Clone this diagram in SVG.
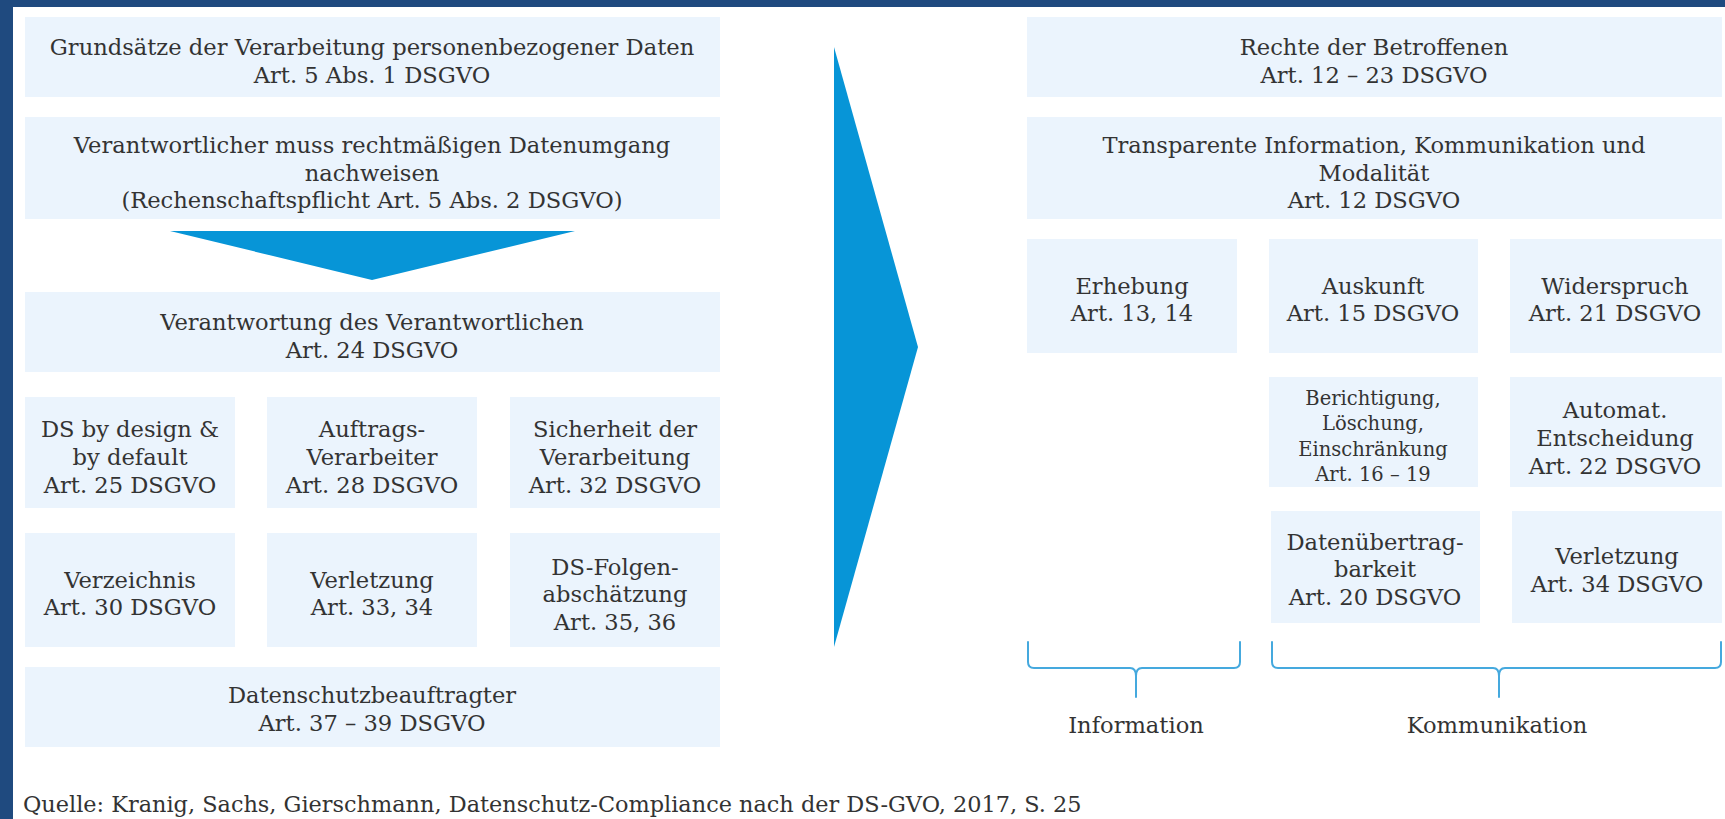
<svg xmlns="http://www.w3.org/2000/svg" width="1725" height="819" viewBox="0 0 1725 819">
<style>
.bx{fill:#EBF4FD}
.t{font-family:"DejaVu Serif","Liberation Serif",serif;font-size:22.6px;fill:#333;text-anchor:middle}
.s{font-size:19.5px}
.ft{text-anchor:start}
.ar{fill:#0795D7}
.br{fill:none;stroke:#45A9DE;stroke-width:2;stroke-linejoin:round;stroke-linecap:round}
</style>
<rect x="0" y="0" width="1725" height="819" fill="#ffffff"/>
<rect x="0" y="0" width="1725" height="7" fill="#1F4A7F"/>
<rect x="0" y="0" width="13" height="819" fill="#1F4A7F"/>

<g id="grundsaetze"><rect class="bx" x="25" y="17" width="695" height="80"/>
<text class="t" x="372" y="55">Grundsätze der Verarbeitung personenbezogener Daten</text>
<text class="t" x="372" y="83">Art. 5 Abs. 1 DSGVO</text></g>

<g id="nachweis"><rect class="bx" x="25" y="117" width="695" height="102"/>
<text class="t" x="372" y="153">Verantwortlicher muss rechtmäßigen Datenumgang</text>
<text class="t" x="372" y="181">nachweisen</text>
<text class="t" x="372" y="208">(Rechenschaftspflicht Art. 5 Abs. 2 DSGVO)</text></g>

<g id="verantwortung"><rect class="bx" x="25" y="292" width="695" height="80"/>
<text class="t" x="372" y="330">Verantwortung des Verantwortlichen</text>
<text class="t" x="372" y="358">Art. 24 DSGVO</text></g>

<g id="dsdesign"><rect class="bx" x="25" y="397" width="210" height="111"/>
<text class="t" x="130" y="437">DS by design &amp;</text>
<text class="t" x="130" y="465">by default</text>
<text class="t" x="130" y="493">Art. 25 DSGVO</text></g>

<g id="auftrag"><rect class="bx" x="267" y="397" width="210" height="111"/>
<text class="t" x="372" y="437">Auftrags-</text>
<text class="t" x="372" y="465">Verarbeiter</text>
<text class="t" x="372" y="493">Art. 28 DSGVO</text></g>

<g id="sicherheit"><rect class="bx" x="510" y="397" width="210" height="111"/>
<text class="t" x="615" y="437">Sicherheit der</text>
<text class="t" x="615" y="465">Verarbeitung</text>
<text class="t" x="615" y="493">Art. 32 DSGVO</text></g>

<g id="verzeichnis"><rect class="bx" x="25" y="533" width="210" height="114"/>
<text class="t" x="130" y="588">Verzeichnis</text>
<text class="t" x="130" y="615">Art. 30 DSGVO</text></g>

<g id="verletzung-l"><rect class="bx" x="267" y="533" width="210" height="114"/>
<text class="t" x="372" y="588">Verletzung</text>
<text class="t" x="372" y="615">Art. 33, 34</text></g>

<g id="folgen"><rect class="bx" x="510" y="533" width="210" height="114"/>
<text class="t" x="615" y="575">DS-Folgen-</text>
<text class="t" x="615" y="602">abschätzung</text>
<text class="t" x="615" y="630">Art. 35, 36</text></g>

<g id="dsb"><rect class="bx" x="25" y="667" width="695" height="80"/>
<text class="t" x="372" y="703">Datenschutzbeauftragter</text>
<text class="t" x="372" y="731">Art. 37 – 39 DSGVO</text></g>

<g id="rechte"><rect class="bx" x="1027" y="17" width="695" height="80"/>
<text class="t" x="1374" y="55">Rechte der Betroffenen</text>
<text class="t" x="1374" y="83">Art. 12 – 23 DSGVO</text></g>

<g id="transparenz"><rect class="bx" x="1027" y="117" width="695" height="102"/>
<text class="t" x="1374" y="153">Transparente Information, Kommunikation und</text>
<text class="t" x="1374" y="181">Modalität</text>
<text class="t" x="1374" y="208">Art. 12 DSGVO</text></g>

<g id="erhebung"><rect class="bx" x="1027" y="239" width="210" height="114"/>
<text class="t" x="1132" y="294">Erhebung</text>
<text class="t" x="1132" y="321">Art. 13, 14</text></g>

<g id="auskunft"><rect class="bx" x="1269" y="239" width="209" height="114"/>
<text class="t" x="1373" y="294">Auskunft</text>
<text class="t" x="1373" y="321">Art. 15 DSGVO</text></g>

<g id="widerspruch"><rect class="bx" x="1510" y="239" width="212" height="114"/>
<text class="t" x="1615" y="294">Widerspruch</text>
<text class="t" x="1615" y="321">Art. 21 DSGVO</text></g>

<g id="berichtigung"><rect class="bx" x="1269" y="377" width="209" height="110"/>
<text class="t s" x="1373" y="405">Berichtigung,</text>
<text class="t s" x="1373" y="430">Löschung,</text>
<text class="t s" x="1373" y="456">Einschränkung</text>
<text class="t s" x="1373" y="481">Art. 16 – 19</text></g>

<g id="automat"><rect class="bx" x="1510" y="377" width="212" height="110"/>
<text class="t" x="1615" y="418">Automat.</text>
<text class="t" x="1615" y="446">Entscheidung</text>
<text class="t" x="1615" y="474">Art. 22 DSGVO</text></g>

<g id="portabilitaet"><rect class="bx" x="1271" y="511" width="209" height="112"/>
<text class="t" x="1375" y="550">Datenübertrag-</text>
<text class="t" x="1375" y="577">barkeit</text>
<text class="t" x="1375" y="605">Art. 20 DSGVO</text></g>

<g id="verletzung-r"><rect class="bx" x="1512" y="511" width="210" height="112"/>
<text class="t" x="1617" y="564">Verletzung</text>
<text class="t" x="1617" y="592">Art. 34 DSGVO</text></g>

<g id="connectors">
<polygon class="ar" points="170,231 575,231 372,280"/>
<polygon class="ar" points="834,47 918,347 834,647"/>
<path class="br" d="M1028,642 V662 Q1028,668 1034,668 H1130 Q1136,668 1136,676 V697 M1136,676 Q1136,668 1142,668 H1234 Q1240,668 1240,662 V642"/>
<path class="br" d="M1272,642 V662 Q1272,668 1278,668 H1493 Q1499,668 1499,676 V697 M1499,676 Q1499,668 1505,668 H1715 Q1721,668 1721,662 V642"/>
</g>

<g id="labels">
<text class="t" x="1136" y="733">Information</text>
<text class="t" x="1497" y="733">Kommunikation</text>
</g>

<text class="t ft" x="23" y="812" style="font-size:22.4px">Quelle: Kranig, Sachs, Gierschmann, Datenschutz-Compliance nach der DS-GVO, 2017, S. 25</text>
</svg>
